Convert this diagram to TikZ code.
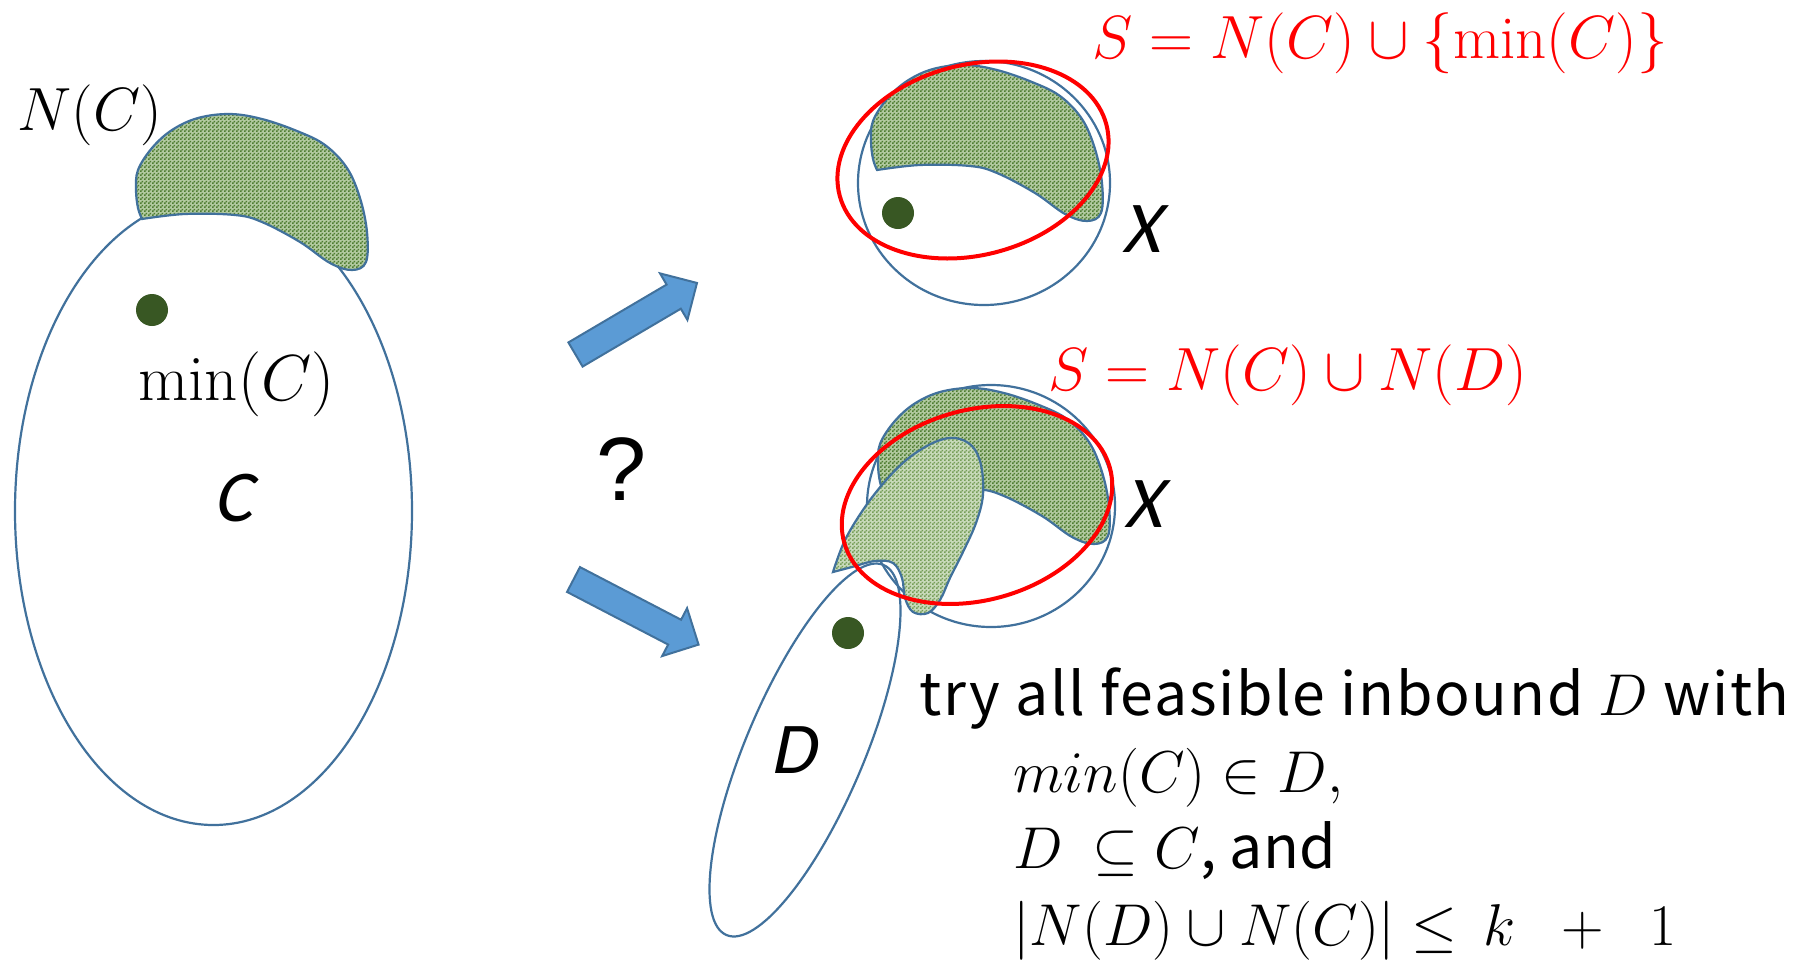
\RequirePackage{fix-cm}
\documentclass[tikz,border=0pt]{standalone}
\usepackage{fontspec}
\newfontfamily\carlitosl{Carlito}[FakeSlant=0.21]
\newfontfamily\jpfont{Noto Sans CJK JP}[LetterSpace=2.9]
\newfontfamily\jpfontplain{Noto Sans CJK JP}
\newfontfamily\arialfont{Liberation Sans}
\usetikzlibrary{patterns.meta}
\definecolor{outl}{RGB}{65,113,156}
\definecolor{arrfill}{RGB}{91,155,213}
\definecolor{chk}{RGB}{78,124,48}
\definecolor{chkbase}{RGB}{178,202,160}
\definecolor{chklight}{RGB}{118,158,88}
\definecolor{bglight}{RGB}{200,218,186}
\definecolor{dotc}{RGB}{56,87,35}
\definecolor{redc}{RGB}{255,0,0}
\pgfdeclarepattern{
  name=checks,
  type=uncolored,
  bottom left={\pgfpoint{0pt}{0pt}},
  top right={\pgfpoint{2pt}{2pt}},
  tile size={\pgfpoint{2pt}{2pt}},
  code={
    \pgfpathrectangle{\pgfpointorigin}{\pgfpoint{1pt}{1pt}}
    \pgfpathrectangle{\pgfpoint{1pt}{1pt}}{\pgfpoint{1pt}{1pt}}
    \pgfusepath{fill}
  }
}
\newcommand\ncpath{plot[smooth, tension=0.6] coordinates {(142,219) (185,214) (235,215) (262,222) (300,242) (330,263) (352,270) (366,262) (367,232) (360,198) (347,168) (325,145) (297,131) (262,119) (230,114) (198,118) (172,130) (152,148) (138,170) (136,190) (138,208) (142,219)} -- cycle}
\newcommand\ndpath{plot[smooth, tension=0.6] coordinates {(833,572) (845,540) (865,507) (888,478) (910,457) (935,442) (955,438) (972,446) (981,465) (983,495) (976,523) (963,552) (950,578) (940,600) (928,613) (913,612) (905,598) (902,578) (893,563) (875,561) (852,567) (833,572)} -- cycle}
\newcommand\arrowpath{(0,-14) -- (114,-14) -- (114,-27) -- (141,0) -- (114,27) -- (114,14) -- (0,14) -- cycle}
\begin{document}
\begin{tikzpicture}[x=0.5pt, y=-0.5pt,
  outline/.style={draw=outl, line width=1.1pt},
  ncblob/.style={outline, preaction={fill=chkbase}, pattern=checks, pattern color=chk},
  ndblob/.style={outline, preaction={fill=bglight}, pattern=checks, pattern color=chklight},
  redring/.style={draw=redc, line width=2pt},
  blockarrow/.style={draw=outl, line width=1pt, fill=arrfill, line join=miter},
  setdot/.style={fill=dotc},
  mathlbl/.style={inner sep=0pt, font=\fontsize{30.5}{36}\selectfont},
  mathsmall/.style={inner sep=0pt, font=\jpfontplain\fontsize{29.5}{35}\selectfont},
  calit/.style={inner sep=0pt, font=\carlitosl\fontsize{36.5}{44}\selectfont},
  bodytext/.style={inner sep=0pt, font=\jpfont\fontsize{29.5}{35}\selectfont}]
\useasboundingbox (0,0) rectangle (1806,960);
% ---- left: C with N(C)
\draw[outline] (213.5,511) ellipse [x radius=198.5, y radius=314];
\path[ncblob] \ncpath;
\fill[setdot] (152,310) circle [radius=16];
\node[mathlbl, anchor=base west] (lblNC) at (17,130) {$N(C)$};
\node[inner sep=0pt, font=\fontsize{32.5}{38}\selectfont, anchor=base west] (lblmin) at (138,400) {$\mathrm{min}(C)$};
\node[calit, anchor=base] (lblC) at (233,521) {C};
% ---- arrows and question mark
\begin{scope}[shift={(575.5,354.5)}, rotate=30.5]
  \draw[blockarrow] \arrowpath;
\end{scope}
\begin{scope}[shift={(573.5,579.5)}, rotate=-27.5]
  \draw[blockarrow] \arrowpath;
\end{scope}
\node[inner sep=0pt, font=\arialfont\fontsize{45}{54}\selectfont, anchor=base] (q) at (622,500) {?};
% ---- top right
\draw[outline] (984,183) ellipse [x radius=126, y radius=122];
\path[ncblob, shift={(735,-49)}] \ncpath;
\fill[setdot] (898,213) circle [radius=16];
\draw[redring, rotate around={15:(973,160)}] (973,160) ellipse [x radius=138, y radius=95];
\node[calit, anchor=base] (lblX1) at (1141,252) {X};
\node[mathlbl, text=redc, anchor=base west] (lblS1) at (1092,58) {$S = N(C) \cup \{\mathrm{min}(C)\}$};
% ---- bottom right
\draw[outline] (991,506) ellipse [x radius=124, y radius=121];
\path[ncblob, shift={(742,274)}] \ncpath;
\path[ndblob] \ndpath;
\draw[outline, rotate around={67:(805,750)}] (805,750) ellipse [x radius=201, y radius=59];
\fill[setdot] (848,633) circle [radius=16];
\draw[redring, rotate around={16:(977,505)}] (977,505) ellipse [x radius=138, y radius=95];
\node[calit, anchor=base] (lblX2) at (1143,527) {X};
\node[calit, anchor=base] (lblD) at (793,773) {D};
\node[mathlbl, text=redc, anchor=base west] (lblS2) at (1048,390) {$S = N(C) \cup N(D)$};
% ---- text block
\node[bodytext, anchor=base west] (t1) at (919,715) {try all feasible inbound $D$ with};
\node[mathsmall, anchor=base west] (t2) at (1013,792) {$min(C) \in D,$};
\node[mathsmall, anchor=base west] (t3) at (1013,868) {$D\ \subseteq C$, and};
\node[mathsmall, anchor=base west] (t4) at (1013,945) {$|N(D) \cup N(C)| \le\, k \;\;+\;\; 1$};
\end{tikzpicture}
\end{document}
